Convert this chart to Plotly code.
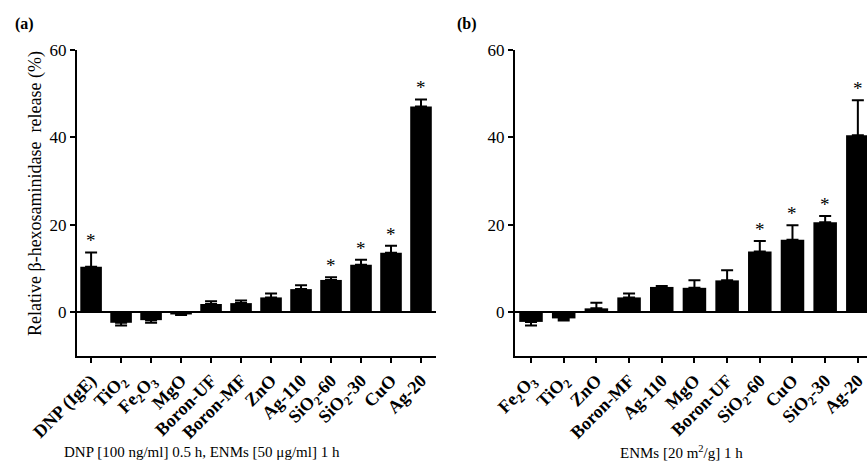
import plotly.graph_objects as go

# Panel (a)
cats_a = ["DNP (IgE)", "TiO<sub>2</sub>", "Fe<sub>2</sub>O<sub>3</sub>", "MgO", "Boron-UF", "Boron-MF",
          "ZnO", "Ag-110", "SiO<sub>2</sub>-60", "SiO<sub>2</sub>-30", "CuO", "Ag-20"]
vals_a = [10.4, -2.4, -1.8, -0.5, 1.9, 2.1, 3.4, 5.3, 7.4, 10.9, 13.6, 47.1]
err_a = [3.3, 0.6, 0.6, 0.1, 0.6, 0.6, 0.9, 0.9, 0.6, 1.1, 1.6, 1.6]
sig_a = [True, False, False, False, False, False, False, False, True, True, True, True]

# Panel (b)
cats_b = ["Fe<sub>2</sub>O<sub>3</sub>", "TiO<sub>2</sub>", "ZnO", "Boron-MF", "Ag-110", "MgO",
          "Boron-UF", "SiO<sub>2</sub>-60", "CuO", "SiO<sub>2</sub>-30", "Ag-20"]
vals_b = [-2.2, -1.4, 0.9, 3.4, 5.8, 5.6, 7.3, 13.9, 16.6, 20.6, 40.5]
err_b = [0.8, 0.5, 1.3, 0.9, 0.2, 1.7, 2.3, 2.4, 3.3, 1.4, 8.0]
sig_b = [False, False, False, False, False, False, False, True, True, True, True]

yticks = [0, 20, 40, 60]

W, H = 867, 464
SERIF = "Liberation Serif, Times New Roman, serif"

fig = go.Figure()


def add_panel(cats, vals, errs, sig, xname, yname):
    xs = list(range(len(cats)))
    plus = [e if v >= 0 else 0 for v, e in zip(vals, errs)]
    minus = [e if v < 0 else 0 for v, e in zip(vals, errs)]
    fig.add_trace(go.Bar(
        x=xs, y=vals, width=0.72, marker=dict(color="black", line=dict(width=0)),
        error_y=dict(type="data", symmetric=False, array=plus, arrayminus=minus,
                     color="black", thickness=2, width=6),
        xaxis=xname, yaxis=yname, showlegend=False, hoverinfo="skip",
    ))
    for i, (v, e, s) in enumerate(zip(vals, errs, sig)):
        if s:
            top = v + e if v >= 0 else v
            fig.add_annotation(x=i, y=top, xref=xname, yref=yname, text="*",
                               showarrow=False, yanchor="bottom", yshift=-1,
                               font=dict(family=SERIF, size=19, color="black"))
    return xs


xs_a = add_panel(cats_a, vals_a, err_a, sig_a, "x", "y")
xs_b = add_panel(cats_b, vals_b, err_b, sig_b, "x2", "y2")

axis_common = dict(showline=True, linecolor="black", linewidth=2, showgrid=False,
                   ticks="outside", ticklen=5, tickwidth=2, tickcolor="black",
                   automargin=False)

fig.update_layout(
    width=W, height=H, paper_bgcolor="white", plot_bgcolor="white",
    margin=dict(l=0, r=0, t=50, b=108),
    xaxis=dict(domain=[77 / W, 436 / W], range=[-0.47, 11.5], tickmode="array",
               tickvals=xs_a, ticktext=cats_a, tickangle=-45, anchor="y",
               tickfont=dict(family=SERIF, size=18, color="black", weight="bold"),
               ticklabeloverflow="allow",
               zeroline=False, **axis_common),
    yaxis=dict(domain=[0, 1], range=[-10, 60], tickvals=yticks, anchor="x",
               tickfont=dict(family=SERIF, size=17, color="black"),
               zeroline=True, zerolinecolor="black", zerolinewidth=2, **axis_common),
    xaxis2=dict(domain=[515 / W, 1.0], range=[-0.49, 10.28], tickmode="array",
                tickvals=xs_b, ticktext=cats_b, tickangle=-45, anchor="y2",
                tickfont=dict(family=SERIF, size=18, color="black", weight="bold"),
                ticklabeloverflow="allow",
                zeroline=False, **axis_common),
    yaxis2=dict(domain=[0, 1], range=[-10, 60], tickvals=yticks, anchor="x2",
                tickfont=dict(family=SERIF, size=17, color="black"),
                zeroline=True, zerolinecolor="black", zerolinewidth=2, **axis_common),
)

plot_h = H - 50 - 108


def py(pix):
    return (H - 108 - pix) / plot_h


fig.add_annotation(x=35 / W, y=py(194), xref="paper", yref="paper",
                   text="Relative β-hexosaminidase  release (%)", textangle=-90,
                   showarrow=False, xanchor="center", yanchor="middle",
                   font=dict(family=SERIF, size=18, color="black"))
fig.add_annotation(x=202 / W, y=py(452), xref="paper", yref="paper",
                   text="DNP [100 ng/ml] 0.5 h, ENMs [50 μg/ml] 1 h",
                   showarrow=False, xanchor="center", yanchor="middle",
                   font=dict(family=SERIF, size=15, color="black"))
fig.add_annotation(x=681 / W, y=py(452), xref="paper", yref="paper",
                   text="ENMs [20 m<sup>2</sup>/g] 1 h",
                   showarrow=False, xanchor="center", yanchor="middle",
                   font=dict(family=SERIF, size=15, color="black"))
fig.add_annotation(x=13 / W, y=py(24), xref="paper", yref="paper", text="<b>(a)</b>",
                   showarrow=False, xanchor="left", yanchor="middle",
                   font=dict(family=SERIF, size=16, color="black"))
fig.add_annotation(x=455 / W, y=py(24), xref="paper", yref="paper", text="<b>(b)</b>",
                   showarrow=False, xanchor="left", yanchor="middle",
                   font=dict(family=SERIF, size=16, color="black"))

fig.write_html("out.html", config={"displayModeBar": False},
               post_script="document.body.style.margin='0';document.body.style.overflow='hidden';")
